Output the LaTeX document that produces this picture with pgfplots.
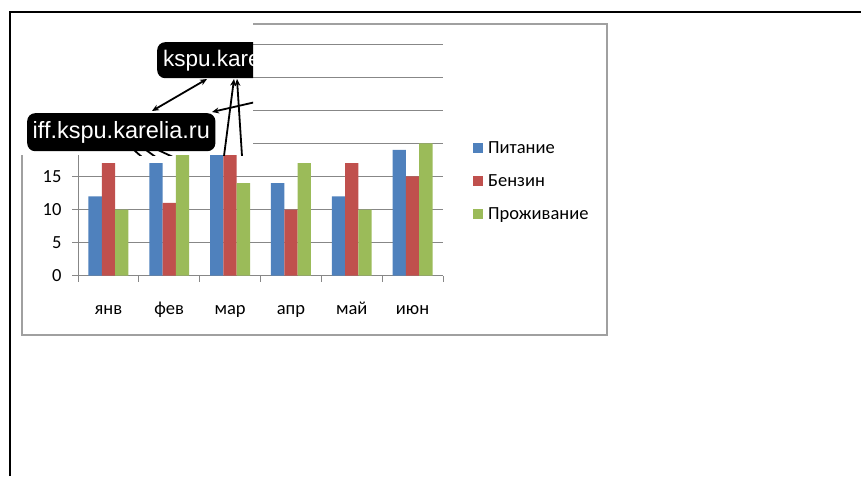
\documentclass[border=0pt]{standalone}
\usepackage{pgfplots}
\pgfplotsset{compat=1.18}
\usepackage{fontspec}
\setmainfont{Carlito}
\newfontfamily\labelfont{Liberation Sans}
\usetikzlibrary{arrows.meta}

\definecolor{pitanie}{HTML}{4F81BD}
\definecolor{benzin}{HTML}{C0504D}
\definecolor{prozh}{HTML}{9BBB59}
\definecolor{gridgray}{HTML}{878787}
\definecolor{boxgray}{HTML}{A0A0A0}

\pgfplotsset{
  sqlegend/.style={legend image code/.code={\fill[##1] (0pt,-5pt) rectangle (10pt,5pt);}},
}

\begin{document}
\begin{tikzpicture}
\useasboundingbox (0,0) rectangle (861pt,-476pt);
% page frame
\draw[line width=2pt] (10pt,-476pt) -- (10pt,-12.3pt) -- (861pt,-12.3pt);
% chart area
\draw[boxgray, line width=1.2pt] (22pt,-24pt) rectangle (607pt,-335pt);

\begin{axis}[
    at={(78pt,-275.7pt)}, anchor=south west,
    scale only axis, width=365pt, height=231.7pt,
    ymin=0, ymax=35, ytick={0,5,...,35},
    yticklabels={0,5,10,15,,,,},
    xmin=-0.5, xmax=5.5,
    xtick={0,...,5},
    xticklabels={янв,фев,мар,апр,май,июн},
    minor xtick={-0.5,0.5,...,5.5},
    ybar=0pt, bar width=13.3pt,
    axis x line*=bottom, axis y line*=left,
    axis line style={gridgray, line width=1pt, -},
    ymajorgrids, major grid style={gridgray, line width=1pt},
    tick align=outside, major tick length=6pt, minor tick length=6pt,
    major x tick style={draw=none},
    minor x tick style={gridgray, line width=1pt},
    ytick style={gridgray, line width=1pt},
    tick label style={font=\fontsize{18.5}{21}\selectfont},
    xticklabel style={anchor=base, yshift=-33pt},
    yticklabel style={xshift=-7pt},
    legend style={at={(1.082,0.584)}, anchor=north west, draw=none, fill=none,
      font=\fontsize{18.5}{21}\selectfont, row sep=17.5pt, column sep=4pt,
      inner sep=0pt, nodes={inner sep=1pt}},
    legend cell align=left,
  ]
  \addplot[fill=pitanie, draw=none, sqlegend] coordinates {
    (0,12) (1,17) (2,20) (3,14) (4,12) (5,19)};
  \addplot[fill=benzin, draw=none, sqlegend] coordinates {
    (0,17) (1,11) (2,19) (3,10) (4,17) (5,15)};
  \addplot[fill=prozh, draw=none, sqlegend] coordinates {
    (0,10) (1,19) (2,14) (3,17) (4,10) (5,20)};
  \legend{Питание,Бензин,Проживание}
\end{axis}

% pasted overlay covering the top left of the chart
\fill[white] (11.2pt,-13.4pt) rectangle (253pt,-155pt);
\begin{scope}
  \clip (11.2pt,-13.4pt) rectangle (253pt,-155pt);
  \node[fill=black, text=white, rounded corners=8pt, anchor=north west,
        minimum height=36pt, inner xsep=6pt,
        font=\labelfont\fontsize{22.5}{24}\selectfont] at (157pt,-42pt) {kspu.karelia.ru};
  \node[fill=black, text=white, rounded corners=8pt, anchor=north west,
        minimum height=38pt, inner xsep=5.5pt,
        font=\labelfont\fontsize{23.5}{25}\selectfont] at (27pt,-113pt) {iff.kspu.karelia.ru};
  \begin{scope}[line width=1.8pt, >={Stealth[length=7pt,width=6pt]}]
    \draw[<->] (152pt,-111pt) -- (207pt,-79pt);
    \draw[->] (260pt,-101pt) -- (212pt,-112pt);
    \draw[->] (224pt,-156pt) -- (234pt,-79pt);
    \draw[->] (242pt,-156pt) -- (237pt,-79pt);
    \draw (134pt,-150pt) -- (143pt,-158pt);
    \draw (146pt,-150pt) -- (157pt,-158pt);
    \draw (158pt,-150pt) -- (173pt,-157pt);
  \end{scope}
\end{scope}
\end{tikzpicture}
\end{document}
